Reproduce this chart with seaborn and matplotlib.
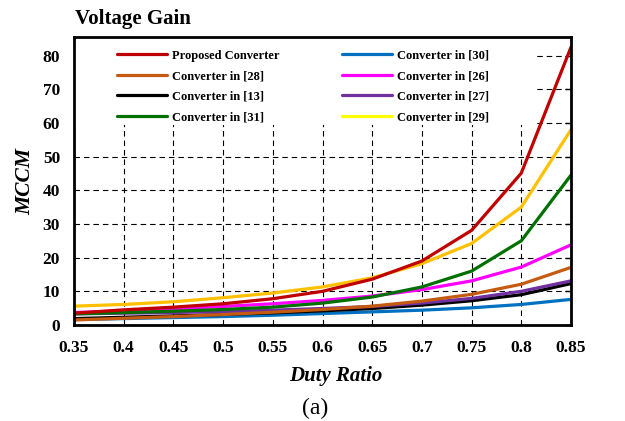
import numpy as np
import pandas as pd
import matplotlib
matplotlib.use("Agg")
import matplotlib.pyplot as plt
from matplotlib.lines import Line2D
from matplotlib.patches import Rectangle
import seaborn as sns

duty = [0.35, 0.40, 0.45, 0.50, 0.55, 0.60, 0.65, 0.70, 0.75, 0.80, 0.85]
proposed = [3.5, 4.5, 5.3, 6.3, 7.8, 10.0, 13.6, 19.0, 28.1, 45.1, 82.5]
conv30 = [1.6, 1.9, 2.2, 2.5, 2.9, 3.4, 3.9, 4.4, 5.1, 6.1, 7.6]
conv28 = [1.5, 2.0, 2.5, 3.1, 3.8, 4.6, 5.6, 7.1, 9.1, 12.1, 17.1]
conv26 = [3.7, 4.2, 4.8, 5.5, 6.3, 7.3, 8.6, 10.5, 13.1, 17.2, 23.8]
conv13 = [1.9, 2.3, 2.7, 3.1, 3.6, 4.2, 4.9, 5.9, 7.2, 9.0, 12.3]
conv27 = [3.3, 3.5, 3.7, 4.0, 4.4, 4.9, 5.5, 6.5, 7.9, 10.0, 13.1]
conv31 = [3.3, 3.7, 4.1, 4.6, 5.3, 6.5, 8.3, 11.3, 16.0, 25.0, 44.5]
conv29 = [5.6, 6.1, 6.9, 8.1, 9.5, 11.3, 14.0, 18.2, 24.2, 35.0, 58.0]

series_names = ["Proposed Converter", "Converter in [28]", "Converter in [13]", "Converter in [31]",
                "Converter in [30]", "Converter in [26]", "Converter in [27]", "Converter in [29]"]
series_values = [proposed, conv28, conv13, conv31, conv30, conv26, conv27, conv29]
line_colors = ["#C00000", "#C55A11", "#000000", "#007000", "#0070C0", "#FF00FF", "#7030A0", "#FFC000"]
legend_colors = ["#C00000", "#C55A11", "#000000", "#007000", "#0070C0", "#FF00FF", "#7030A0", "#FFFF00"]
draw_order = [4, 2, 6, 1, 5, 3, 7, 0]

sns.set_theme(style="white")
plt.rcParams["font.family"] = ["Liberation Serif", "DejaVu Serif"]
plt.rcParams["text.color"] = "black"
plt.rcParams["axes.labelcolor"] = "black"

fig = plt.figure(figsize=(6.25, 4.21), dpi=100)
ax = fig.add_axes([74/625, 96/421, 497/625, 288/421])

for k, i in enumerate(draw_order):
    df = pd.DataFrame({"duty": duty, "gain": series_values[i]})
    sns.lineplot(data=df, x="duty", y="gain", ax=ax, color=line_colors[i], lw=2.3,
                 zorder=3 + k * 0.01)

ax.set_xlim(0.35, 0.85)
ax.set_ylim(0, 85.5)
ax.set_xticks(duty)
ax.set_xticklabels(["0.35", "0.4", "0.45", "0.5", "0.55", "0.6", "0.65", "0.7", "0.75", "0.8", "0.85"])
ax.set_yticks([0, 10, 20, 30, 40, 50, 60, 70, 80])
ax.grid(True, color="black", linestyle=(0, (5, 3.5)), lw=0.8)
for lab in ax.get_xticklabels() + ax.get_yticklabels():
    lab.set_fontweight("bold")
    lab.set_fontsize(12.5)
ax.tick_params(direction="in", length=4, width=1, top=True, right=True, colors="black")
ax.tick_params(axis="x", pad=11)
ax.tick_params(axis="y", pad=10)
for s in ax.spines.values():
    s.set_color("black")
    s.set_linewidth(2)
    s.set_zorder(10)

# white legend area covering the grid
ax.add_patch(Rectangle((0, 0.694), 0.928, 0.306, transform=ax.transAxes,
                       facecolor="white", edgecolor="none", zorder=2))

ax.set_xlabel("Duty Ratio", fontsize=15, fontweight="bold", fontstyle="italic")
ax.xaxis.set_label_coords((336 - 74) / 497, (325 - 366) / 288)
ax.set_ylabel("MCCM", fontsize=15.5, fontweight="bold", fontstyle="italic", labelpad=5)

handles = [Line2D([0], [0], color=c, lw=2.3) for c in legend_colors]
leg = ax.legend(handles, series_names, ncol=2, loc="upper left", bbox_to_anchor=(0.062, 1.0),
                frameon=False,
                prop={"family": "Liberation Serif", "weight": "bold", "size": 9},
                handlelength=4.0, columnspacing=5.0, labelspacing=0.68, borderpad=0.5,
                handletextpad=0.4)
leg.set_zorder(5)

fig.text(75/625, 1 - 19/421, "Voltage Gain", fontsize=15, fontweight="bold", ha="left", va="center")
fig.text(315/625, 1 - 408/421, "(a)", fontsize=17, ha="center", va="center")

fig.savefig("out.png", dpi=100)
